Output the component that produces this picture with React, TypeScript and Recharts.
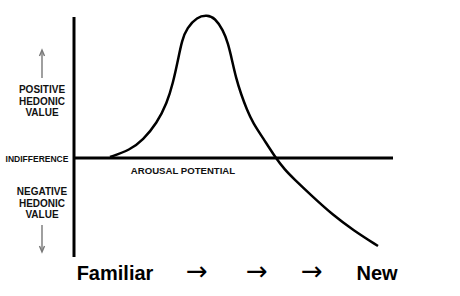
import React from 'react';
import { LineChart, Line, XAxis, YAxis, ReferenceLine } from 'recharts';

// curve: x = arousal potential, y = hedonic value (0 = indifference)
const arousal = [36, 56, 69, 83, 93, 99, 104, 108, 113, 123, 133, 141, 149, 154, 158, 162, 167, 173, 179, 189, 201, 211, 219, 239, 259, 279, 304];
const hedonic = [1, 8, 18, 35, 55, 75, 98, 118, 130, 141, 143, 140, 128, 115, 98, 80, 64, 48, 35, 20, 1, -12, -20, -39, -57, -72, -88];

const tickPositions = [41, 123, 183, 238, 303];
const tickLabels = ['Familiar', '→', '→', '→', 'New'];

const data = arousal.map((x, i) => ({ x, y: hedonic[i] }));

const BottomTick = (props: any) => {
  const { x, y, payload } = props;
  const i = tickPositions.indexOf(payload.value);
  const label = tickLabels[i];
  const isArrow = label === '→';
  return (
    <text
      x={x}
      y={y}
      dy={isArrow ? 15 : 15}
      textAnchor="middle"
      fill="#000"
      fontSize={isArrow ? 26 : 20}
      fontWeight={isArrow ? 'normal' : 'bold'}
      fontFamily={isArrow ? 'DejaVu Sans' : 'Liberation Sans, Arial, sans-serif'}
    >
      {label}
    </text>
  );
};

const small = { fontFamily: 'Liberation Sans, Arial, sans-serif', fontWeight: 'bold' as const, fill: '#111' };

export default function App() {
  return (
    <div style={{ position: 'absolute', left: 0, top: 0, width: 460, height: 296, background: '#fff' }}>
      <LineChart width={460} height={296} data={data} margin={{ top: 13, right: 67, left: 74, bottom: 9 }}>
        <XAxis
          dataKey="x"
          type="number"
          domain={[0, 319]}
          ticks={tickPositions}
          axisLine={false}
          tickLine={false}
          height={30}
          tick={<BottomTick />}
          interval={0}
        />
        <YAxis type="number" domain={[-99, 145]} hide allowDataOverflow />
        <ReferenceLine
          segment={[{ x: 0, y: -99 }, { x: 0, y: 141 }]}
          stroke="#000"
          strokeWidth={3}
        />
        <ReferenceLine y={0} stroke="#000" strokeWidth={3} />
        <Line
          dataKey="y"
          type="basis"
          stroke="#000"
          strokeWidth={2.5}
          dot={false}
          isAnimationActive={false}
        />
      </LineChart>
      <svg width={460} height={296} style={{ position: 'absolute', left: 0, top: 0, pointerEvents: 'none' }}>
        <g stroke="#777" strokeWidth={1.4} fill="none">
          <line x1={42} y1={52} x2={42} y2={78} />
          <polyline points="39.5,56 42,50 44.5,56" />
          <line x1={42} y1={225} x2={42} y2={250} />
          <polyline points="39.5,246 42,252 44.5,246" />
        </g>
        <g {...small} fontSize={10} textAnchor="middle">
          <text x={42} y={93}>POSITIVE</text>
          <text x={42} y={105}>HEDONIC</text>
          <text x={42} y={116}>VALUE</text>
          <text x={42} y={195}>NEGATIVE</text>
          <text x={42} y={207}>HEDONIC</text>
          <text x={42} y={218}>VALUE</text>
        </g>
        <text {...small} x={37} y={162} fontSize={8.5} textAnchor="middle">INDIFFERENCE</text>
        <text {...small} x={183} y={174} fontSize={9.6} textAnchor="middle">AROUSAL POTENTIAL</text>
      </svg>
    </div>
  );
}
